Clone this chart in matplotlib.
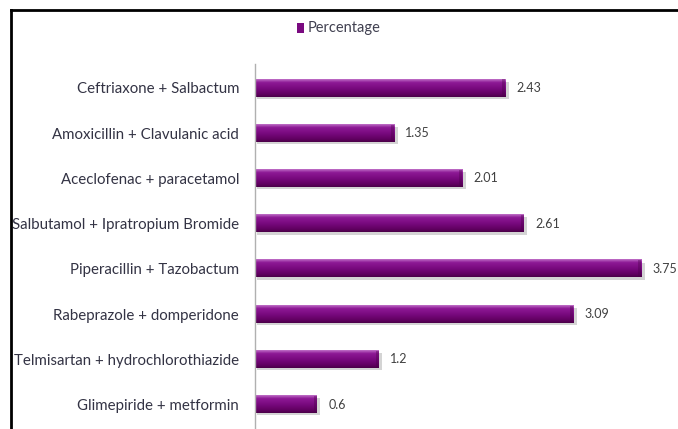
import numpy as np
import matplotlib.pyplot as plt
from matplotlib.colors import LinearSegmentedColormap
from matplotlib.lines import Line2D
from matplotlib.patches import Rectangle

combos = [
    "Ceftriaxone + Salbactum",
    "Amoxicillin + Clavulanic acid",
    "Aceclofenac + paracetamol",
    "Salbutamol + Ipratropium Bromide",
    "Piperacillin + Tazobactum",
    "Rabeprazole + domperidone",
    "Telmisartan + hydrochlorothiazide",
    "Glimepiride + metformin",
]
percentage = [2.43, 1.35, 2.01, 2.61, 3.75, 3.09, 1.2, 0.6]
value_labels = ["2.43", "1.35", "2.01", "2.61", "3.75", "3.09", "1.2", "0.6"]

plt.rcParams['font.family'] = ['Lato', 'DejaVu Sans']

fig = plt.figure(figsize=(6.78, 4.29), dpi=100)
ax = fig.add_axes([255 / 678, 0, 423 / 678, 365 / 429])

# cylinder-ish shading, top to bottom
bar_cmap = LinearSegmentedColormap.from_list(
    "bar", [(0.0, "#c070c8"), (0.18, "#8e1a96"), (0.5, "#7a0a80"),
            (0.85, "#600060"), (1.0, "#4a0048")])
grad = np.linspace(0, 1, 64).reshape(-1, 1)

bh = 0.38
ypos = np.arange(len(combos))
for y, v, lab in zip(ypos, percentage, value_labels):
    # soft shadow
    ax.add_patch(Rectangle((0.02, y - bh / 2 + 0.05), v + 0.015, bh,
                           facecolor="#d4d4d4", edgecolor="none", zorder=1))
    ax.imshow(grad, cmap=bar_cmap, aspect="auto", interpolation="bilinear",
              extent=[0, v, y + bh / 2, y - bh / 2], zorder=2)
    # darker end cap
    ax.add_patch(Rectangle((v - 0.03, y - bh / 2), 0.03, bh,
                           facecolor="#4a0048", edgecolor="none", alpha=0.35, zorder=3))
    ax.text(v + 0.11, y, lab, va="center", ha="left", fontsize=9, color="#404040")

ax.set_xlim(0, 423 / 103)
ax.set_ylim(7.54, -0.53)
ax.set_yticks(ypos)
ax.set_yticklabels(combos, fontsize=10.8, color="#333344")
ax.tick_params(axis="y", length=0, pad=11.5)
ax.set_xticks([])
for s in ["top", "right", "bottom"]:
    ax.spines[s].set_visible(False)
ax.spines["left"].set_color("#b0b0b0")
ax.spines["left"].set_linewidth(1.0)

# legend
fig.patches.append(Rectangle((297 / 678, 1 - 33 / 429), 7 / 678, 10 / 429,
                             transform=fig.transFigure, facecolor="#7a0a80",
                             edgecolor="none"))
fig.text(308 / 678, 1 - 28 / 429, "Percentage", fontsize=10.5, color="#404050",
         va="center", ha="left")

# outer frame (top and left only)
fig.add_artist(Line2D([11 / 678, 1], [1 - 10 / 429, 1 - 10 / 429],
                      transform=fig.transFigure, color="black", linewidth=2))
fig.add_artist(Line2D([11 / 678, 11 / 678], [0, 1 - 10 / 429],
                      transform=fig.transFigure, color="black", linewidth=2))

fig.savefig("out.png", dpi=100)
